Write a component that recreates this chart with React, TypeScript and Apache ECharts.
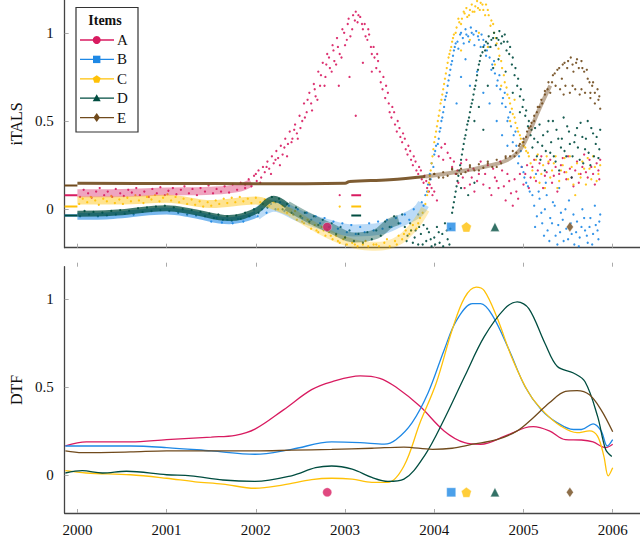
import { useEffect, useRef } from "react";
import * as echarts from "echarts";

// items and their colours
const names = ["A", "B", "C", "D", "E"];
const colors = ["#D81B60", "#1E88E5", "#FFC107", "#004D40", "#704A1C"];
const yearTicks = [2000, 2001, 2002, 2003, 2004, 2005, 2006];
const valueTicks = [0, 0.5, 1];

// event markers (year) drawn under both panels
const markerYears = [2002.8, 2004.19, 2004.36, 2004.68, 2005.52];
const markerValue = -0.1;

// iTALS: flat value before 2000 and during the short gap in 2003
const startValues = [0.08, -0.035, 0.015, -0.035, 0.135];
const gapValues = [0.08, null, 0.015, -0.035, null];

// iTALS: trend of the dense clouds
const bandA = [[2000.0, 0.09], [2000.5, 0.092], [2001.0, 0.1], [2001.5, 0.105], [2001.8, 0.12], [2001.95, 0.15]];
const bandB = [[2000.0, -0.04], [2000.4, -0.035], [2000.8, -0.015], [2001.0, -0.01], [2001.3, -0.03], [2001.7, -0.065], [2002.0, -0.03]];
const bandB2 = [[2002.0, -0.03], [2002.2, 0.02], [2002.5, -0.04], [2002.8, -0.09], [2003.1, -0.12], [2003.4, -0.11], [2003.6, -0.07], [2003.8, -0.02], [2003.88, 0.03]];
const bandC = [[2000.0, 0.05], [2000.5, 0.05], [2001.0, 0.06], [2001.5, 0.03], [2002.0, 0.05], [2002.2, 0.02], [2002.4, -0.02]];
const bandC2 = [[2002.4, -0.02], [2002.7, -0.11], [2003.0, -0.18], [2003.3, -0.21], [2003.55, -0.19], [2003.75, -0.11], [2003.9, 0.0]];
const bandD = [[2000.0, -0.025], [2000.4, -0.02], [2000.8, 0.0], [2001.0, 0.005], [2001.3, -0.015], [2001.7, -0.05], [2002.0, -0.01], [2002.2, 0.06], [2002.35, 0.02]];
const bandD2 = [[2002.35, 0.02], [2002.6, -0.05], [2002.85, -0.11], [2003.1, -0.16], [2003.35, -0.14], [2003.5, -0.08], [2003.6, -0.06]];
const bandE = [[2000.0, 0.148], [2001.0, 0.146], [2002.0, 0.145], [2003.0, 0.148], [2003.05, 0.157], [2003.5, 0.167], [2003.9, 0.185]];
const bandE2 = [[2003.9, 0.185], [2004.3, 0.215], [2004.6, 0.245], [2004.8, 0.275], [2004.95, 0.33], [2005.06, 0.43], [2005.17, 0.56], [2005.3, 0.7]];

// iTALS: single points
const dotsA = [
  [2000.03, 0.07], [2000.07, 0.11], [2000.12, 0.09], [2000.16, 0.065], [2000.21, 0.1], [2000.25, 0.12], [2000.3, 0.08], [2000.34, 0.1], [2000.39, 0.07], [2000.43, 0.115], [2000.48, 0.09], [2000.52, 0.075], [2000.57, 0.11], [2000.61, 0.095], [2000.66, 0.12], [2000.7, 0.08], [2000.75, 0.1], [2000.8, 0.07], [2000.84, 0.115], [2000.89, 0.09], [2000.93, 0.125], [2000.98, 0.08], [2001.02, 0.105], [2001.07, 0.12], [2001.11, 0.085], [2001.16, 0.11], [2001.2, 0.13], [2001.25, 0.09], [2001.29, 0.115], [2001.34, 0.08], [2001.38, 0.12], [2001.43, 0.1], [2001.47, 0.135], [2001.52, 0.09], [2001.56, 0.115], [2001.61, 0.1], [2001.65, 0.13], [2001.7, 0.095], [2001.74, 0.14], [2001.79, 0.11], [2001.83, 0.15], [2001.88, 0.12],
  [2001.88, 0.14], [2001.92, 0.17], [2001.95, 0.13], [2001.98, 0.19], [2002.01, 0.16], [2002.03, 0.22], [2002.06, 0.18], [2002.08, 0.24], [2002.1, 0.21], [2002.13, 0.27], [2002.15, 0.23], [2002.18, 0.3], [2002.2, 0.26], [2002.23, 0.33], [2002.25, 0.29], [2002.28, 0.36], [2002.3, 0.31], [2002.33, 0.4], [2002.36, 0.37], [2002.38, 0.44], [2002.41, 0.4], [2002.44, 0.48], [2002.46, 0.43], [2002.49, 0.53], [2002.52, 0.5], [2002.54, 0.6], [2002.57, 0.55], [2002.6, 0.66], [2002.62, 0.6], [2002.65, 0.71], [2002.67, 0.64], [2002.7, 0.78], [2002.72, 0.7], [2002.75, 0.83], [2002.78, 0.75], [2002.8, 0.88], [2002.83, 0.8], [2002.86, 0.93], [2002.88, 0.84], [2002.91, 0.97], [2002.94, 0.88], [2002.97, 1.02], [2003.0, 0.93], [2003.03, 1.05], [2003.06, 0.98], [2003.09, 1.1], [2003.12, 1.12], [2003.14, 1.06],
  [2002.0, 0.2], [2002.05, 0.15], [2002.12, 0.24], [2002.17, 0.2], [2002.22, 0.28], [2002.27, 0.25], [2002.32, 0.35], [2002.35, 0.3], [2002.4, 0.38], [2002.43, 0.45], [2002.47, 0.4], [2002.5, 0.46], [2002.55, 0.52], [2002.58, 0.62], [2002.63, 0.56], [2002.66, 0.68], [2002.69, 0.62], [2002.73, 0.76], [2002.77, 0.7], [2002.79, 0.82], [2002.82, 0.86], [2002.85, 0.78], [2002.87, 0.9], [2002.9, 0.82], [2002.92, 0.92], [2002.96, 0.86], [2002.99, 1.0], [2003.02, 0.96], [2003.04, 1.08], [2003.08, 1.02], [2003.11, 1.07], [2003.15, 1.1], [2003.19, 1.05],
  [2003.17, 1.09], [2003.2, 1.02], [2003.22, 1.05], [2003.25, 0.96], [2003.27, 0.99], [2003.3, 0.88], [2003.32, 0.92], [2003.35, 0.8], [2003.37, 0.84], [2003.4, 0.72], [2003.43, 0.75], [2003.45, 0.63], [2003.48, 0.66], [2003.5, 0.55], [2003.53, 0.58], [2003.56, 0.48], [2003.59, 0.5], [2003.62, 0.41], [2003.65, 0.43], [2003.68, 0.34], [2003.71, 0.36], [2003.74, 0.28], [2003.77, 0.3], [2003.8, 0.22], [2003.83, 0.24], [2003.86, 0.17], [2003.89, 0.19], [2003.92, 0.12], [2003.95, 0.14], [2003.98, 0.08],
  [2003.23, 0.98], [2003.26, 1.02], [2003.29, 0.92], [2003.33, 0.86], [2003.36, 0.88], [2003.39, 0.78], [2003.42, 0.68], [2003.46, 0.7], [2003.49, 0.6], [2003.52, 0.52], [2003.55, 0.55], [2003.58, 0.44], [2003.61, 0.46], [2003.64, 0.38], [2003.67, 0.4], [2003.7, 0.31], [2003.73, 0.33], [2003.76, 0.25], [2003.79, 0.27], [2003.82, 0.2], [2003.85, 0.22], [2003.88, 0.15], [2003.91, 0.16], [2003.94, 0.1], [2003.97, 0.12],
  [2002.93, 0.7], [2003.05, 0.75], [2003.2, 0.83], [2003.3, 0.78], [2003.12, 0.53], [2002.94, 0.08],
  [2004.0, 0.1], [2004.03, 0.05], [2004.05, 0.3], [2004.08, 0.35], [2004.1, 0.28], [2004.12, 0.37], [2004.15, 0.32], [2004.18, 0.29], [2004.2, 0.24], [2004.24, 0.2], [2004.27, 0.15], [2004.3, 0.26], [2004.34, 0.12], [2004.38, 0.22], [2004.42, 0.18], [2004.45, 0.1], [2004.5, 0.2], [2004.55, 0.14], [2004.6, 0.25], [2004.64, 0.08], [2004.68, 0.18], [2004.72, 0.12], [2004.76, 0.22], [2004.8, 0.05], [2004.84, 0.16], [2004.88, 0.02], [2004.92, 0.1], [2004.96, 0.2], [2005.0, 0.14], [2005.04, 0.25], [2005.08, 0.18], [2005.12, 0.28], [2005.16, 0.22], [2005.2, 0.3], [2005.24, 0.19], [2005.28, 0.26], [2005.32, 0.15], [2005.36, 0.24], [2005.4, 0.2], [2005.44, 0.29], [2005.48, 0.17], [2005.52, 0.23], [2005.56, 0.13], [2005.6, 0.27], [2005.64, 0.2], [2005.68, 0.31], [2005.72, 0.18], [2005.76, 0.24], [2005.8, 0.14], [2005.84, 0.22], [2005.86, 0.28],
  [2004.22, 0.27], [2004.26, 0.22], [2004.32, 0.18], [2004.36, 0.28], [2004.4, 0.14], [2004.44, 0.23], [2004.48, 0.16], [2004.52, 0.27], [2004.57, 0.2], [2004.62, 0.12], [2004.66, 0.23], [2004.7, 0.16], [2004.74, 0.27], [2004.78, 0.13], [2004.82, 0.2], [2004.86, 0.09], [2004.9, 0.17], [2004.94, 0.06], [2004.98, 0.24],
  [2005.02, 0.2], [2005.06, 0.12], [2005.1, 0.24], [2005.14, 0.16], [2005.18, 0.26], [2005.22, 0.12], [2005.26, 0.21], [2005.3, 0.28], [2005.34, 0.19], [2005.38, 0.1], [2005.42, 0.25], [2005.46, 0.21], [2005.5, 0.3], [2005.54, 0.18], [2005.58, 0.22], [2005.62, 0.15], [2005.66, 0.24], [2005.7, 0.21], [2005.74, 0.28], [2005.78, 0.2], [2005.82, 0.26], [2005.85, 0.17],
];
const dotsB = [
  [2001.5, -0.07], [2001.56, -0.05], [2001.62, -0.075], [2001.68, -0.06], [2001.74, -0.08], [2001.8, -0.055], [2001.86, -0.07], [2001.92, -0.04],
  [2002.02, -0.04], [2002.07, 0.0], [2002.12, -0.02], [2002.17, 0.03], [2002.22, 0.0], [2002.27, 0.04], [2002.32, -0.01], [2002.37, 0.02], [2002.42, -0.03], [2002.47, 0.0], [2002.52, -0.05], [2002.57, -0.02], [2002.62, -0.06], [2002.67, -0.04], [2002.72, -0.08], [2002.77, -0.05], [2002.82, -0.1], [2002.87, -0.07], [2002.92, -0.11], [2002.97, -0.08], [2003.02, -0.13], [2003.07, -0.09], [2003.12, -0.14], [2003.17, -0.1], [2003.22, -0.13], [2003.27, -0.08], [2003.32, -0.12], [2003.37, -0.07], [2003.42, -0.11], [2003.47, -0.06], [2003.52, -0.1], [2003.57, -0.05], [2003.62, -0.08], [2003.67, -0.03], [2003.72, -0.06], [2003.77, 0.0], [2003.82, -0.03], [2003.86, 0.04],
  [2003.88, 0.02], [2003.9, 0.08], [2003.93, 0.14], [2003.95, 0.2], [2003.97, 0.26], [2004.0, 0.31], [2004.02, 0.36], [2004.05, 0.4], [2004.07, 0.46], [2004.09, 0.52], [2004.11, 0.58], [2004.13, 0.64], [2004.15, 0.7], [2004.17, 0.76], [2004.19, 0.82], [2004.21, 0.87], [2004.23, 0.92], [2004.26, 0.95], [2004.29, 0.99], [2004.32, 0.97], [2004.35, 1.02], [2004.38, 0.98], [2004.41, 1.03], [2004.44, 0.99], [2004.47, 1.01], [2004.5, 0.96], [2004.53, 0.99], [2004.56, 0.93], [2004.59, 0.9], [2004.62, 0.86], [2004.65, 0.82], [2004.68, 0.77], [2004.71, 0.73], [2004.74, 0.68], [2004.77, 0.63], [2004.8, 0.58], [2004.83, 0.52], [2004.86, 0.47], [2004.89, 0.42], [2004.92, 0.36], [2004.95, 0.3], [2004.98, 0.24], [2005.01, 0.18], [2005.05, 0.13], [2005.1, 0.08],
  [2003.92, 0.1], [2003.96, 0.17], [2003.99, 0.24], [2004.01, 0.33], [2004.04, 0.37], [2004.06, 0.44], [2004.08, 0.5], [2004.1, 0.55], [2004.12, 0.62], [2004.14, 0.66], [2004.16, 0.73], [2004.18, 0.79], [2004.2, 0.84], [2004.22, 0.9], [2004.24, 0.94], [2004.27, 0.91], [2004.3, 1.0], [2004.33, 0.94], [2004.36, 0.99], [2004.39, 0.95], [2004.42, 1.0], [2004.45, 0.93], [2004.49, 0.98], [2004.52, 0.92], [2004.55, 0.96], [2004.58, 0.87], [2004.61, 0.92], [2004.64, 0.79], [2004.67, 0.84], [2004.7, 0.7], [2004.73, 0.76], [2004.76, 0.6], [2004.79, 0.66], [2004.82, 0.5], [2004.85, 0.55], [2004.88, 0.38], [2004.91, 0.44], [2004.94, 0.26], [2004.97, 0.33], [2005.0, 0.21], [2005.03, 0.15], [2005.07, 0.1],
  [2004.3, 0.75], [2004.4, 0.7], [2004.48, 0.78], [2004.55, 0.66], [2004.62, 0.6], [2004.7, 0.5], [2004.76, 0.42], [2004.82, 0.36], [2004.25, 0.6], [2004.35, 0.85],
  [2005.12, 0.02], [2005.15, -0.04], [2005.18, 0.06], [2005.21, -0.08], [2005.24, 0.0], [2005.27, -0.12], [2005.3, -0.05], [2005.33, 0.04], [2005.36, -0.15], [2005.39, -0.09], [2005.42, -0.02], [2005.45, -0.18], [2005.48, -0.11], [2005.51, 0.05], [2005.54, -0.14], [2005.57, -0.2], [2005.6, -0.07], [2005.63, -0.16], [2005.66, 0.0], [2005.69, -0.12], [2005.72, -0.19], [2005.75, -0.05], [2005.78, -0.14], [2005.81, -0.09], [2005.84, -0.17], [2005.86, -0.03], [2005.14, 0.2], [2005.25, 0.15], [2005.4, 0.12],
  [2005.13, -0.1], [2005.17, 0.1], [2005.2, -0.02], [2005.23, -0.15], [2005.26, 0.08], [2005.29, -0.18], [2005.32, -0.08], [2005.35, 0.02], [2005.38, -0.2], [2005.41, -0.13], [2005.44, -0.06], [2005.47, 0.0], [2005.5, -0.17], [2005.53, -0.08], [2005.56, -0.03], [2005.59, -0.13], [2005.62, -0.21], [2005.65, -0.1], [2005.68, -0.05], [2005.71, -0.15], [2005.74, -0.1], [2005.77, -0.2], [2005.8, 0.02], [2005.83, -0.12], [2005.85, -0.07],
];
const dotsC = [
  [2000.02, 0.03], [2000.06, 0.06], [2000.11, 0.04], [2000.15, 0.07], [2000.2, 0.05], [2000.24, 0.025], [2000.29, 0.06], [2000.33, 0.045], [2000.38, 0.075], [2000.42, 0.035], [2000.47, 0.055], [2000.51, 0.03], [2000.56, 0.065], [2000.6, 0.045], [2000.65, 0.08], [2000.69, 0.05], [2000.74, 0.035], [2000.78, 0.07], [2000.83, 0.055], [2000.87, 0.08], [2000.92, 0.045], [2000.96, 0.065], [2001.01, 0.085], [2001.05, 0.05], [2001.1, 0.07], [2001.14, 0.04], [2001.19, 0.06], [2001.23, 0.03], [2001.28, 0.055], [2001.32, 0.025], [2001.37, 0.045], [2001.41, 0.015], [2001.46, 0.04], [2001.5, 0.02], [2001.55, 0.05], [2001.59, 0.03], [2001.64, 0.06], [2001.68, 0.035], [2001.73, 0.065], [2001.77, 0.04], [2001.82, 0.07], [2001.86, 0.045], [2001.91, 0.06], [2001.95, 0.035], [2002.0, 0.065], [2002.05, 0.04], [2002.1, 0.055], [2002.15, 0.02], [2002.2, 0.04], [2002.25, 0.0], [2002.3, 0.02], [2002.35, -0.02],
  [2002.42, -0.03], [2002.46, -0.06], [2002.5, -0.04], [2002.54, -0.08], [2002.58, -0.06], [2002.62, -0.11], [2002.66, -0.09], [2002.7, -0.13], [2002.74, -0.1], [2002.78, -0.15], [2002.82, -0.13], [2002.86, -0.17], [2002.9, -0.15], [2002.94, -0.19], [2002.98, -0.17], [2003.02, -0.2], [2003.08, -0.19], [2003.14, -0.21], [2003.2, -0.2], [2003.26, -0.21], [2003.32, -0.2], [2003.38, -0.21], [2003.44, -0.19], [2003.5, -0.21], [2003.56, -0.18], [2003.6, -0.15], [2003.64, -0.17], [2003.68, -0.12], [2003.72, -0.14], [2003.76, -0.09], [2003.8, -0.11], [2003.84, -0.05], [2003.87, -0.02], [2003.9, 0.03], [2003.92, 0.08], [2002.94, 0.015],
  [2002.44, -0.01], [2002.52, -0.07], [2002.6, -0.08], [2002.68, -0.12], [2002.76, -0.12], [2002.84, -0.15], [2002.92, -0.18], [2003.0, -0.16], [2003.11, -0.2], [2003.23, -0.18], [2003.35, -0.2], [2003.47, -0.17], [2003.58, -0.2], [2003.66, -0.14], [2003.74, -0.12], [2003.82, -0.08],
  [2003.94, 0.15], [2003.96, 0.22], [2003.98, 0.3], [2004.0, 0.38], [2004.02, 0.44], [2004.04, 0.5], [2004.06, 0.56], [2004.08, 0.62], [2004.1, 0.68], [2004.12, 0.74], [2004.14, 0.8], [2004.16, 0.86], [2004.18, 0.9], [2004.2, 0.95], [2004.22, 0.99], [2004.25, 1.03], [2004.28, 1.06], [2004.31, 1.08], [2004.34, 1.11], [2004.37, 1.09], [2004.4, 1.13], [2004.43, 1.12], [2004.46, 1.15], [2004.49, 1.14], [2004.52, 1.17], [2004.55, 1.13], [2004.58, 1.16], [2004.61, 1.1], [2004.64, 1.07], [2004.67, 1.0], [2004.7, 0.94], [2004.73, 0.87], [2004.76, 0.8], [2004.79, 0.72], [2004.82, 0.65], [2004.85, 0.6], [2004.88, 0.54], [2004.91, 0.49], [2004.94, 0.44], [2004.97, 0.4], [2005.0, 0.36], [2005.03, 0.33], [2005.06, 0.3],
  [2003.93, 0.1], [2003.95, 0.19], [2003.97, 0.26], [2003.99, 0.34], [2004.01, 0.41], [2004.03, 0.47], [2004.05, 0.53], [2004.07, 0.6], [2004.09, 0.65], [2004.11, 0.71], [2004.13, 0.77], [2004.15, 0.83], [2004.17, 0.88], [2004.19, 0.92], [2004.21, 0.97], [2004.24, 1.0], [2004.27, 1.08], [2004.3, 1.05], [2004.33, 1.12], [2004.36, 1.14], [2004.39, 1.1], [2004.42, 1.16], [2004.45, 1.12], [2004.48, 1.18], [2004.51, 1.13], [2004.54, 1.16], [2004.57, 1.1], [2004.6, 1.13], [2004.63, 1.04], [2004.66, 1.05], [2004.69, 0.97], [2004.72, 0.91], [2004.75, 0.84], [2004.78, 0.76], [2004.81, 0.69], [2004.84, 0.63], [2004.87, 0.57], [2004.9, 0.52], [2004.93, 0.46], [2004.96, 0.42], [2004.99, 0.38], [2005.02, 0.35], [2005.05, 0.32],
  [2004.3, 0.9], [2004.4, 0.96], [2004.5, 1.0], [2004.6, 0.92], [2004.68, 0.82], [2004.75, 0.7], [2004.85, 0.5], [2004.9, 0.62],
  [2005.1, 0.22], [2005.14, 0.28], [2005.18, 0.15], [2005.22, 0.25], [2005.26, 0.3], [2005.3, 0.18], [2005.34, 0.26], [2005.38, 0.12], [2005.42, 0.22], [2005.46, 0.29], [2005.5, 0.17], [2005.54, 0.24], [2005.58, 0.08], [2005.62, 0.2], [2005.66, 0.27], [2005.7, 0.14], [2005.74, 0.23], [2005.78, 0.3], [2005.82, 0.16], [2005.86, 0.25],
  [2005.08, 0.26], [2005.12, 0.18], [2005.16, 0.31], [2005.2, 0.2], [2005.24, 0.12], [2005.28, 0.27], [2005.32, 0.22], [2005.36, 0.3], [2005.4, 0.16], [2005.44, 0.25], [2005.48, 0.21], [2005.52, 0.3], [2005.56, 0.14], [2005.6, 0.26], [2005.64, 0.18], [2005.68, 0.23], [2005.72, 0.29], [2005.76, 0.17], [2005.8, 0.24], [2005.84, 0.2],
];
const dotsD = [
  [2000.03, -0.04], [2000.08, -0.01], [2000.13, -0.03], [2000.18, -0.015], [2000.23, -0.04], [2000.28, -0.02], [2000.33, -0.035], [2000.38, -0.01], [2000.43, -0.03], [2000.48, -0.005], [2000.53, -0.025], [2000.58, -0.01], [2000.63, -0.03], [2000.68, 0.005], [2000.73, -0.015], [2000.78, 0.01], [2000.83, -0.01], [2000.88, 0.015], [2000.93, -0.005], [2000.98, 0.02], [2001.03, -0.01], [2001.08, 0.01], [2001.13, -0.02], [2001.18, 0.0], [2001.23, -0.03], [2001.28, -0.005], [2001.33, -0.035], [2001.38, -0.015], [2001.43, -0.04], [2001.48, -0.025], [2001.53, -0.05], [2001.58, -0.03], [2001.63, -0.06], [2001.68, -0.04], [2001.73, -0.065], [2001.78, -0.035], [2001.83, -0.055], [2001.88, -0.02], [2001.93, -0.04], [2001.98, 0.0],
  [2002.03, -0.02], [2002.08, 0.03], [2002.13, 0.01], [2002.18, 0.07], [2002.22, 0.04], [2002.26, 0.06], [2002.3, 0.0], [2002.35, 0.03], [2002.4, -0.02], [2002.45, 0.01], [2002.5, -0.04], [2002.55, -0.02], [2002.6, -0.07], [2002.65, -0.04], [2002.7, -0.09], [2002.75, -0.06], [2002.8, -0.12], [2002.85, -0.08], [2002.9, -0.14], [2002.95, -0.1], [2003.0, -0.16], [2003.05, -0.12], [2003.1, -0.18], [2003.15, -0.14], [2003.2, -0.19], [2003.25, -0.13], [2003.3, -0.17], [2003.35, -0.12], [2003.4, -0.15], [2003.45, -0.07], [2003.5, -0.1], [2003.55, -0.04], [2003.6, -0.08], [2003.64, -0.03],
  [2003.67, -0.1], [2003.7, -0.15], [2003.73, -0.08], [2003.76, -0.19], [2003.79, -0.12], [2003.82, -0.2], [2003.85, -0.14], [2003.88, -0.09], [2003.91, -0.18], [2003.94, -0.13], [2003.97, -0.21], [2004.0, -0.16], [2004.03, -0.1], [2004.06, -0.19], [2004.09, -0.14], [2004.12, -0.08], [2004.15, -0.17], [2004.18, -0.11],
  [2003.69, -0.18], [2003.74, -0.12], [2003.78, -0.16], [2003.83, -0.1], [2003.87, -0.2], [2003.92, -0.11], [2003.96, -0.17], [2004.01, -0.2], [2004.05, -0.13], [2004.1, -0.21], [2004.14, -0.12], [2004.17, -0.2],
  [2004.2, -0.02], [2004.22, 0.04], [2004.24, 0.1], [2004.26, 0.16], [2004.28, 0.22], [2004.3, 0.28], [2004.32, 0.34], [2004.34, 0.4], [2004.36, 0.45], [2004.38, 0.5], [2004.4, 0.55], [2004.42, 0.6], [2004.44, 0.65], [2004.46, 0.7], [2004.48, 0.76], [2004.5, 0.82], [2004.52, 0.87], [2004.55, 0.92], [2004.58, 0.95], [2004.61, 0.98], [2004.64, 0.96], [2004.67, 1.0], [2004.7, 0.97], [2004.73, 1.01], [2004.76, 0.98], [2004.79, 0.99], [2004.82, 0.95], [2004.85, 0.92], [2004.88, 0.86], [2004.91, 0.8], [2004.94, 0.74], [2004.97, 0.68], [2005.0, 0.62], [2005.03, 0.56], [2005.06, 0.5], [2005.09, 0.45],
  [2004.21, 0.01], [2004.23, 0.07], [2004.25, 0.13], [2004.27, 0.19], [2004.29, 0.25], [2004.31, 0.31], [2004.33, 0.37], [2004.35, 0.42], [2004.37, 0.48], [2004.39, 0.52], [2004.41, 0.58], [2004.43, 0.62], [2004.45, 0.68], [2004.47, 0.73], [2004.49, 0.79], [2004.51, 0.84], [2004.54, 0.89], [2004.57, 0.9], [2004.6, 0.94], [2004.63, 0.92], [2004.66, 0.97], [2004.69, 0.93], [2004.72, 0.96], [2004.75, 0.94], [2004.78, 0.95], [2004.81, 0.9], [2004.84, 0.88], [2004.87, 0.82], [2004.9, 0.76], [2004.93, 0.7], [2004.96, 0.64], [2004.99, 0.58], [2005.02, 0.53], [2005.05, 0.47], [2005.08, 0.42],
  [2004.45, 0.5], [2004.5, 0.58], [2004.55, 0.45], [2004.6, 0.7], [2004.66, 0.8], [2004.72, 0.85], [2004.8, 0.78], [2004.88, 0.66], [2004.96, 0.55], [2004.3, 0.12], [2004.38, 0.08], [2004.45, 0.15],
  [2005.12, 0.4], [2005.15, 0.3], [2005.18, 0.48], [2005.21, 0.36], [2005.24, 0.22], [2005.27, 0.44], [2005.3, 0.32], [2005.33, 0.5], [2005.36, 0.27], [2005.39, 0.4], [2005.42, 0.35], [2005.45, 0.52], [2005.48, 0.3], [2005.51, 0.44], [2005.54, 0.18], [2005.57, 0.38], [2005.6, 0.46], [2005.63, 0.28], [2005.66, 0.41], [2005.69, 0.34], [2005.72, 0.5], [2005.75, 0.25], [2005.78, 0.43], [2005.81, 0.37], [2005.84, 0.29], [2005.86, 0.45],
  [2005.1, 0.35], [2005.13, 0.46], [2005.16, 0.38], [2005.19, 0.28], [2005.22, 0.42], [2005.25, 0.33], [2005.28, 0.5], [2005.31, 0.38], [2005.34, 0.3], [2005.37, 0.45], [2005.4, 0.22], [2005.43, 0.4], [2005.46, 0.33], [2005.49, 0.47], [2005.52, 0.37], [2005.55, 0.3], [2005.58, 0.42], [2005.61, 0.35], [2005.64, 0.49], [2005.67, 0.26], [2005.7, 0.4], [2005.73, 0.32], [2005.76, 0.46], [2005.79, 0.3], [2005.82, 0.41], [2005.85, 0.34],
];
const dotsE = [
  [2003.95, 0.17], [2004.0, 0.2], [2004.05, 0.18], [2004.1, 0.21], [2004.15, 0.19], [2004.2, 0.225], [2004.25, 0.2], [2004.3, 0.23], [2004.35, 0.21], [2004.4, 0.24], [2004.45, 0.22], [2004.5, 0.255], [2004.55, 0.235], [2004.6, 0.26], [2004.65, 0.24], [2004.7, 0.28], [2004.75, 0.26], [2004.8, 0.29], [2004.85, 0.3], [2004.88, 0.33], [2004.92, 0.32], [2004.96, 0.37], [2005.0, 0.4], [2005.03, 0.41], [2005.06, 0.46], [2005.09, 0.49], [2005.12, 0.5], [2005.15, 0.55], [2005.18, 0.58], [2005.21, 0.6], [2005.24, 0.65], [2005.27, 0.68],
  [2004.0, 0.2], [2004.1, 0.18], [2004.2, 0.23], [2004.3, 0.2], [2004.4, 0.25], [2004.5, 0.22], [2004.6, 0.27], [2004.7, 0.24], [2004.8, 0.3], [2004.9, 0.3], [2004.95, 0.36], [2005.0, 0.38], [2005.04, 0.44], [2005.08, 0.47], [2005.12, 0.53], [2005.16, 0.58], [2005.2, 0.62], [2005.24, 0.67], [2005.28, 0.72], [2005.3, 0.66], [2005.33, 0.76], [2005.36, 0.7], [2005.38, 0.79], [2005.41, 0.68], [2005.44, 0.82], [2005.47, 0.7], [2005.5, 0.84], [2005.52, 0.66], [2005.55, 0.82], [2005.58, 0.68], [2005.6, 0.85], [2005.63, 0.65], [2005.66, 0.8], [2005.69, 0.66], [2005.72, 0.74], [2005.75, 0.63], [2005.78, 0.72], [2005.8, 0.6], [2005.83, 0.68], [2005.86, 0.57],
  [2005.32, 0.72], [2005.35, 0.77], [2005.4, 0.8], [2005.43, 0.74], [2005.46, 0.83], [2005.49, 0.8], [2005.53, 0.86], [2005.56, 0.78], [2005.59, 0.83], [2005.62, 0.8], [2005.65, 0.84], [2005.68, 0.78], [2005.71, 0.79], [2005.74, 0.72], [2005.77, 0.7], [2005.8, 0.66], [2005.84, 0.62], [2005.45, 0.65], [2005.55, 0.7], [2005.65, 0.68], [2005.75, 0.66], [2005.85, 0.64],
];

// DTF curves
const dtfA = [[1999.865, 0.164], [2000.1, 0.187], [2000.595, 0.187], [2001.0, 0.2], [2001.5, 0.215], [2001.77, 0.225], [2001.99, 0.26], [2002.31, 0.37], [2002.625, 0.485], [2002.85, 0.53], [2003.17, 0.564], [2003.39, 0.55], [2003.57, 0.5], [2003.84, 0.39], [2004.11, 0.25], [2004.34, 0.183], [2004.52, 0.174], [2004.79, 0.22], [2005.02, 0.268], [2005.11, 0.274], [2005.29, 0.25], [2005.47, 0.2], [2005.65, 0.198], [2005.78, 0.187], [2005.92, 0.155], [2006.0, 0.174]];
const dtfB = [[1999.865, 0.164], [2000.595, 0.164], [2001.0, 0.155], [2001.5, 0.136], [2001.99, 0.117], [2002.4, 0.145], [2002.85, 0.187], [2003.17, 0.183], [2003.44, 0.175], [2003.57, 0.2], [2003.75, 0.296], [2003.93, 0.466], [2004.11, 0.71], [2004.25, 0.88], [2004.43, 0.975], [2004.52, 0.975], [2004.65, 0.91], [2004.84, 0.71], [2005.02, 0.5], [2005.2, 0.37], [2005.38, 0.296], [2005.56, 0.258], [2005.65, 0.258], [2005.78, 0.29], [2005.87, 0.25], [2005.94, 0.164], [2006.0, 0.2]];
const dtfC = [[1999.865, 0.023], [2000.1, 0.01], [2000.595, 0.0], [2001.0, -0.02], [2001.32, -0.04], [2001.63, -0.053], [2001.99, -0.077], [2002.31, -0.058], [2002.625, -0.028], [2002.85, -0.02], [2003.08, -0.025], [2003.3, -0.043], [2003.48, -0.043], [2003.66, 0.05], [2003.84, 0.296], [2004.02, 0.52], [2004.2, 0.825], [2004.34, 1.01], [2004.47, 1.07], [2004.56, 1.05], [2004.7, 0.9], [2004.88, 0.655], [2005.06, 0.466], [2005.24, 0.353], [2005.42, 0.277], [2005.6, 0.24], [2005.74, 0.25], [2005.83, 0.22], [2005.9, 0.108], [2005.95, -0.006], [2006.0, 0.04]];
const dtfD = [[1999.865, 0.01], [2000.054, 0.023], [2000.28, 0.01], [2000.55, 0.02], [2001.0, 0.0], [2001.27, -0.006], [2001.63, -0.03], [2001.99, -0.038], [2002.4, -0.006], [2002.67, 0.04], [2002.85, 0.05], [2003.08, 0.032], [2003.3, -0.015], [2003.48, -0.038], [2003.66, -0.025], [2003.89, 0.108], [2004.11, 0.315], [2004.34, 0.56], [2004.56, 0.787], [2004.79, 0.947], [2004.93, 0.985], [2005.06, 0.947], [2005.24, 0.75], [2005.38, 0.617], [2005.56, 0.58], [2005.69, 0.53], [2005.83, 0.334], [2005.92, 0.145], [2005.99, 0.104]];
const dtfE = [[1999.865, 0.136], [2000.054, 0.126], [2000.595, 0.13], [2001.0, 0.136], [2001.5, 0.136], [2001.99, 0.136], [2002.4, 0.14], [2002.85, 0.145], [2003.3, 0.151], [2003.66, 0.158], [2003.98, 0.145], [2004.2, 0.151], [2004.43, 0.174], [2004.7, 0.2], [2004.93, 0.25], [2005.11, 0.325], [2005.29, 0.41], [2005.47, 0.475], [2005.6, 0.48], [2005.74, 0.456], [2005.87, 0.37], [2006.0, 0.245]];

const bands = [[bandA], [bandB, bandB2], [bandC, bandC2], [bandD, bandD2], [bandE, bandE2]];
const dots = [dotsA, dotsB, dotsC, dotsD, dotsE];
const dtf = [dtfA, dtfB, dtfC, dtfD, dtfE];

const X_MIN = 1999.857;
const X_MAX = 2006.306;
const Y_MIN = -0.218;
const Y_MAX = 1.186;
const FONT = '"Liberation Serif", "DejaVu Serif", serif';
const PENTAGON = "path://M0,-1 L0.951,-0.309 L0.588,0.809 L-0.588,0.809 L-0.951,-0.309 Z";
const symbols = ["circle", "rect", PENTAGON, "triangle", "diamond"];
const symbolSizes: any[] = [9, 9, 10, 9, [7, 10]];
// [first stretch, second stretch] width / opacity of the cloud haze
const bandStyle = [
  [{ width: 8, opacity: 0.4 }],
  [{ width: 7, opacity: 0.6 }, { width: 12, opacity: 0.3 }],
  [{ width: 8, opacity: 0.45 }, { width: 9, opacity: 0.3 }],
  [{ width: 6, opacity: 0.75 }, { width: 10, opacity: 0.4 }],
  [{ width: 3, opacity: 0.9 }, { width: 4, opacity: 0.45 }],
];

function xAxes(grid: number, labels: boolean, inside: boolean) {
  return {
    type: "value",
    gridIndex: grid,
    min: X_MIN,
    max: X_MAX,
    axisLine: { show: inside, onZero: false, lineStyle: { color: "#444", width: 1.3 } },
    axisTick: { customValues: yearTicks, inside, length: 4, lineStyle: { color: "#aaa", width: 1 } },
    axisLabel: {
      show: labels && inside,
      customValues: yearTicks,
      formatter: (v: number) => String(Math.round(v)),
      fontFamily: FONT,
      fontSize: 15,
      color: "#111",
      margin: 9,
    },
    splitLine: { show: false },
  };
}

function yAxes(grid: number, name: string, inside: boolean) {
  return {
    type: "value",
    gridIndex: grid,
    min: Y_MIN,
    max: Y_MAX,
    name: inside ? name : "",
    nameLocation: "middle",
    nameGap: 37,
    nameTextStyle: { fontFamily: FONT, fontSize: 16, color: "#111" },
    axisLine: { show: inside, onZero: false, lineStyle: { color: "#444", width: 1.3 } },
    axisTick: { customValues: valueTicks, inside, length: 4, lineStyle: { color: "#aaa", width: 1 } },
    axisLabel: {
      show: inside,
      customValues: valueTicks,
      formatter: (v: number) => String(v),
      fontFamily: FONT,
      fontSize: 15,
      color: "#111",
      margin: 11,
    },
    splitLine: { show: false },
  };
}

function legendGraphic() {
  const els: any[] = [
    { type: "rect", shape: { x: 76, y: 7.5, width: 62, height: 124.5 }, style: { fill: "#fff", stroke: "#333", lineWidth: 1.2 } },
    { type: "text", x: 105, y: 20.5, style: { text: "Items", fontFamily: FONT, fontWeight: "bold", fontSize: 14, fill: "#111", align: "center", verticalAlign: "middle" } },
  ];
  names.forEach((n, i) => {
    const cy = 40 + i * 19.4;
    const cx = 96.7;
    const c = colors[i];
    els.push({ type: "line", shape: { x1: 80, y1: cy, x2: 114, y2: cy }, style: { stroke: c, lineWidth: 1.3 } });
    let m: any;
    if (i === 0) m = { type: "circle", shape: { cx, cy, r: 4 } };
    else if (i === 1) m = { type: "rect", shape: { x: cx - 3.7, y: cy - 3.7, width: 7.4, height: 7.4 } };
    else if (i === 2) {
      const pts = [0, 1, 2, 3, 4].map((k) => {
        const a = -Math.PI / 2 + (k * 2 * Math.PI) / 5;
        return [cx + 4.2 * Math.cos(a), cy + 0.6 + 4.2 * Math.sin(a)];
      });
      m = { type: "polygon", shape: { points: pts } };
    } else if (i === 3) m = { type: "polygon", shape: { points: [[cx, cy - 4], [cx + 4, cy + 3], [cx - 4, cy + 3]] } };
    else m = { type: "polygon", shape: { points: [[cx, cy - 4.5], [cx + 3.2, cy], [cx, cy + 4.5], [cx - 3.2, cy]] } };
    m.style = { fill: c };
    els.push(m);
    els.push({ type: "text", x: 117, y: cy, style: { text: n, fontFamily: FONT, fontSize: 15, fill: "#111", verticalAlign: "middle" } });
  });
  return [{ type: "group", z: 100, children: els }];
}

function getOption() {
  const series: any[] = [];
  names.forEach((n, i) => {
    const c = colors[i];
    // flat start before 2000
    series.push({
      type: "line", xAxisIndex: 0, yAxisIndex: 0, symbol: "none", silent: true,
      data: [[X_MIN, startValues[i]], [2000.0, startValues[i]]],
      lineStyle: { color: c, width: 2 },
    });
    if (gapValues[i] !== null) {
      series.push({
        type: "line", xAxisIndex: 0, yAxisIndex: 0, symbol: "none", silent: true,
        data: [[2003.07, gapValues[i]], [2003.18, gapValues[i]]],
        lineStyle: { color: c, width: 2 },
      });
    }
    bands[i].forEach((b, k) => {
      const st = bandStyle[i][k];
      series.push({
        type: "line", xAxisIndex: 0, yAxisIndex: 0, symbol: "none", smooth: 0.4, silent: true,
        data: b,
        lineStyle: { color: c, width: st.width, opacity: st.opacity, cap: "butt" },
      });
    });
    series.push({
      type: "scatter", xAxisIndex: 0, yAxisIndex: 0, symbolSize: 2.3, silent: true,
      data: dots[i],
      itemStyle: { color: c, opacity: 0.9 },
    });
    // DTF
    series.push({
      name: n, type: "line", xAxisIndex: 1, yAxisIndex: 1, symbol: "none", smooth: 0.35,
      data: dtf[i],
      lineStyle: { color: c, width: 1.3 },
    });
  });
  // markers on both panels
  names.forEach((n, i) => {
    [0, 1].forEach((g) => {
      series.push({
        type: "scatter", xAxisIndex: g, yAxisIndex: g, z: 5,
        symbol: symbols[i], symbolSize: symbolSizes[i],
        data: [[markerYears[i], markerValue]],
        itemStyle: { color: colors[i], borderColor: "rgba(255,255,255,0.5)", borderWidth: 0.8 },
      });
    });
  });

  return {
    animation: false,
    grid: [
      { left: 56, top: 0, width: 584, height: 247.7 },
      { left: 56, top: 266.7, width: 584, height: 247 },
    ],
    xAxis: [xAxes(0, false, true), xAxes(1, true, true), xAxes(0, false, false), xAxes(1, false, false)],
    yAxis: [yAxes(0, "iTALS", true), yAxes(1, "DTF", true), yAxes(0, "", false), yAxes(1, "", false)],
    graphic: legendGraphic(),
    series,
  };
}

export default function App() {
  const ref = useRef<HTMLDivElement>(null);
  useEffect(() => {
    const chart = echarts.init(ref.current, null, { renderer: "svg" });
    chart.setOption(getOption() as any);
    return () => {
      chart.dispose();
    };
  }, []);
  return (
    <div
      ref={ref}
      style={{ position: "absolute", left: 0, top: 0, width: "640px", height: "537px", background: "#fff" }}
    />
  );
}
